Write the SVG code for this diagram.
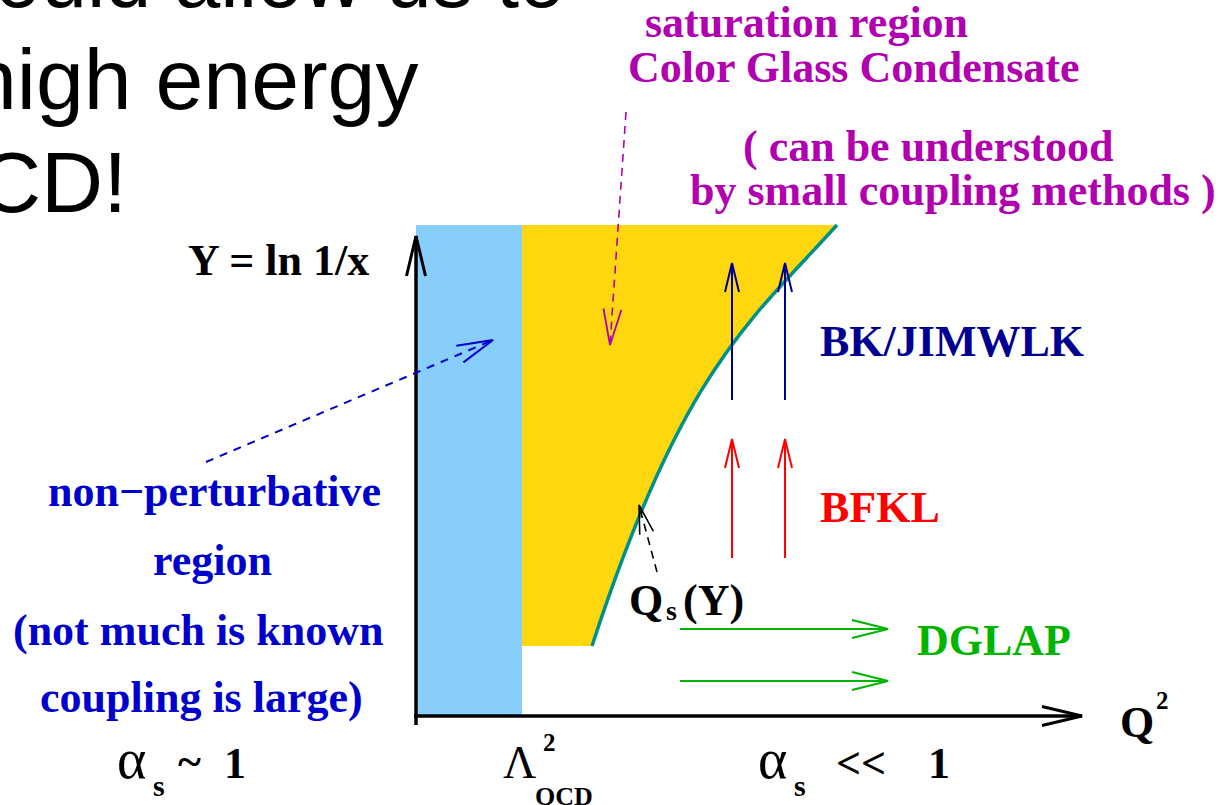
<svg xmlns="http://www.w3.org/2000/svg" width="1219" height="805" viewBox="0 0 1219 805">
<defs>
<style>
.t{font-family:"Liberation Serif","Times New Roman",serif;font-weight:bold;font-size:44px}
.big{font-family:"Liberation Sans",Arial,sans-serif;font-size:86px;fill:#000}
.mag{fill:#B000B0}
.blu{fill:#0000CC}
.nav{fill:#000090}
.red{fill:#FF0000}
.grn{fill:#00B400}
.blk{fill:#000}
.sub{font-size:28px}
.sup{font-size:25px}
.greek{font-weight:normal;font-size:56px}
</style>
<marker id="m-axis" markerUnits="userSpaceOnUse" markerWidth="50" markerHeight="30" refX="0" refY="0" orient="auto" overflow="visible"><path d="M-40,-9.5 L0,0 L-40,9.5" fill="none" stroke="#000" stroke-width="3"/></marker>
<marker id="m-navy" markerUnits="userSpaceOnUse" markerWidth="40" markerHeight="20" refX="0" refY="0" orient="auto" overflow="visible"><path d="M-29,-7 L0,0 L-29,7" fill="none" stroke="#000090" stroke-width="2"/></marker>
<marker id="m-red" markerUnits="userSpaceOnUse" markerWidth="40" markerHeight="20" refX="0" refY="0" orient="auto" overflow="visible"><path d="M-29,-7 L0,0 L-29,7" fill="none" stroke="#FF0000" stroke-width="2"/></marker>
<marker id="m-green" markerUnits="userSpaceOnUse" markerWidth="40" markerHeight="20" refX="0" refY="0" orient="auto" overflow="visible"><path d="M-36,-9 L0,0 L-36,9" fill="none" stroke="#00B400" stroke-width="2"/></marker>
<marker id="m-blue" markerUnits="userSpaceOnUse" markerWidth="40" markerHeight="20" refX="0" refY="0" orient="auto" overflow="visible"><path d="M-36,-9 L0,0 L-36,9" fill="none" stroke="#0000CC" stroke-width="2"/></marker>
<marker id="m-mag" markerUnits="userSpaceOnUse" markerWidth="40" markerHeight="20" refX="0" refY="0" orient="auto" overflow="visible"><path d="M-36,-9 L0,0 L-36,9" fill="none" stroke="#B000B0" stroke-width="1.8"/></marker>
<marker id="m-blk" markerUnits="userSpaceOnUse" markerWidth="40" markerHeight="20" refX="0" refY="0" orient="auto" overflow="visible"><path d="M-29,-7 L0,0 L-29,7" fill="none" stroke="#000" stroke-width="1.6"/></marker>
</defs>
<rect width="1219" height="805" fill="#fff"/>

<g id="slide-text">
<text class="big" x="-5" y="7" textLength="570" lengthAdjust="spacingAndGlyphs">ould allow us to</text>
<text class="big" x="-31" y="109">high energy</text>
<text class="big" x="-21" y="212">CD!</text>
</g>

<g id="regions">
<rect id="nonpert-region" x="416" y="225" width="106" height="491" fill="#87CEFA"/>
<path id="saturation-region" d="M522,225 L837,225 C750,321 682,370 592,646 L522,646 Z" fill="#FFD70F"/>
<path id="qs-curve" d="M592,646 C682,370 750,321 837,225" fill="none" stroke="#00908C" stroke-width="3.5"/>
</g>

<g id="axes">
<line x1="416" y1="725" x2="416" y2="236" stroke="#000" stroke-width="3.5" marker-end="url(#m-axis)"/>
<line x1="414" y1="716" x2="1082" y2="716" stroke="#000" stroke-width="3.5" marker-end="url(#m-axis)"/>
</g>

<g id="connectors">
<line x1="732" y1="400" x2="732" y2="263" stroke="#000090" stroke-width="2" marker-end="url(#m-navy)"/>
<line x1="785" y1="400" x2="785" y2="263" stroke="#000090" stroke-width="2" marker-end="url(#m-navy)"/>
<line x1="732" y1="558" x2="732" y2="439" stroke="#FF0000" stroke-width="2" marker-end="url(#m-red)"/>
<line x1="785" y1="558" x2="785" y2="439" stroke="#FF0000" stroke-width="2" marker-end="url(#m-red)"/>
<line x1="680" y1="629" x2="888" y2="629" stroke="#00B400" stroke-width="2" marker-end="url(#m-green)"/>
<line x1="680" y1="681" x2="888" y2="681" stroke="#00B400" stroke-width="2" marker-end="url(#m-green)"/>
<line x1="206" y1="462" x2="493" y2="340" stroke="#0000CC" stroke-width="2" stroke-dasharray="8,7" marker-end="url(#m-blue)"/>
<line x1="626" y1="112" x2="610" y2="345" stroke="#B000B0" stroke-width="1.6" stroke-dasharray="8,6" marker-end="url(#m-mag)"/>
<line x1="657" y1="572" x2="639" y2="505" stroke="#000" stroke-width="1.6" stroke-dasharray="8,6" marker-end="url(#m-blk)"/>
</g>

<g id="saturation-label">
<text class="t mag" x="645" y="37">saturation region</text>
<text class="t mag" x="628" y="82">Color Glass Condensate</text>
</g>
<g id="small-coupling-label">
<text class="t mag" x="743" y="161">( can be understood</text>
<text class="t mag" x="690" y="205">by small coupling methods )</text>
</g>
<g id="y-axis-label"><text class="t blk" x="188" y="275">Y = ln 1/x</text></g>
<g id="bk-label"><text class="t nav" x="820" y="356">BK/JIMWLK</text></g>
<g id="bfkl-label"><text class="t red" x="820" y="522">BFKL</text></g>
<g id="dglap-label"><text class="t grn" x="917" y="655">DGLAP</text></g>
<g id="qs-label">
<text class="t blk" x="629" y="615">Q</text>
<text class="t blk sub" x="666" y="620">s</text>
<text class="t blk" x="683" y="615">(Y)</text>
</g>
<g id="q2-label">
<text class="t blk" x="1120" y="737">Q</text>
<text class="t blk sup" x="1156" y="709">2</text>
</g>
<g id="nonpert-label">
<text class="t blu" x="48" y="506">non−perturbative</text>
<text class="t blu" x="153" y="575">region</text>
<text class="t blu" x="13" y="645">(not much is known</text>
<text class="t blu" x="40" y="712">coupling is large)</text>
</g>
<g id="alpha-large">
<text class="t blk greek" x="117" y="778">α</text>
<text class="t blk" x="153" y="796" style="font-size:30px">s</text>
<text class="t blk" x="178" y="776">~</text>
<text class="t blk" x="224" y="778">1</text>
</g>
<g id="lambda-qcd">
<text class="t blk" x="503" y="778" style="font-weight:normal;font-size:46px">Λ</text>
<text class="t blk sup" x="543" y="751">2</text>
<text class="t blk" x="535" y="805" style="font-size:26px">QCD</text>
</g>
<g id="alpha-small">
<text class="t blk greek" x="758" y="778">α</text>
<text class="t blk" x="794" y="796" style="font-size:30px">s</text>
<text class="t blk" x="836" y="778">&lt;&lt;</text>
<text class="t blk" x="928" y="778">1</text>
</g>
</svg>
